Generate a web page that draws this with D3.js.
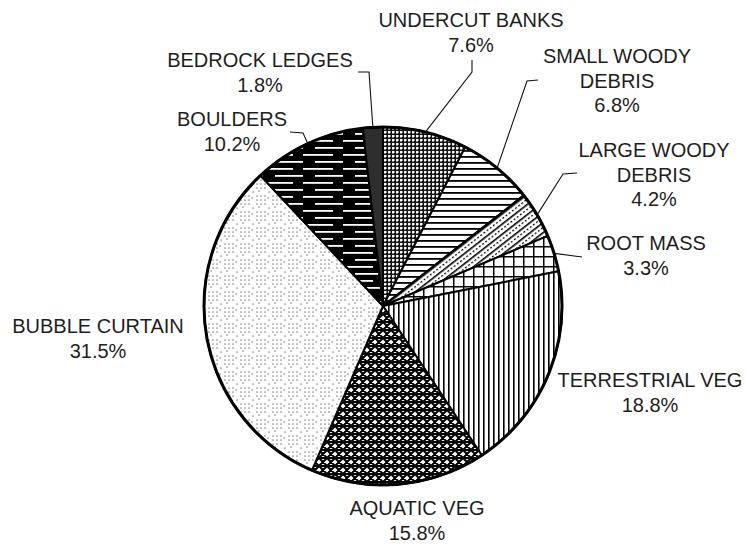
<!DOCTYPE html>
<html>
<head>
<meta charset="utf-8">
<script src="https://cdn.jsdelivr.net/npm/d3@7"></script>
<style>
  html, body { margin: 0; padding: 0; background: #fff; }
  svg { display: block; }
  text { font-family: "Liberation Sans", Arial, sans-serif; font-size: 20px; fill: #1e1e1e; }
</style>
</head>
<body>
<svg id="chart" width="746" height="544"></svg>
<script>
// Habitat cover types, clockwise from 12 o'clock
const categories = ["UNDERCUT BANKS", "SMALL WOODY DEBRIS", "LARGE WOODY DEBRIS", "ROOT MASS",
  "TERRESTRIAL VEG", "AQUATIC VEG", "BUBBLE CURTAIN", "BOULDERS", "BEDROCK LEDGES"];
const values = [7.6, 6.8, 4.2, 3.3, 18.8, 15.8, 31.5, 10.2, 1.8];
const labelLines = [["UNDERCUT BANKS"], ["SMALL WOODY", "DEBRIS"], ["LARGE WOODY", "DEBRIS"], ["ROOT MASS"],
  ["TERRESTRIAL VEG"], ["AQUATIC VEG"], ["BUBBLE CURTAIN"], ["BOULDERS"], ["BEDROCK LEDGES"]];

// Layout: label centre x, first baseline y, optional leader elbow points
const layout = {
  cx: 383, cy: 306, r: 179, lineH: 24.5,
  labels: [
    { x: 471, y: 27, leader: [[472, 60], [472, 72]] },
    { x: 617, y: 63, leader: [[538, 80], [527, 81]] },
    { x: 654, y: 157, leader: [[577, 173], [563, 174]] },
    { x: 646, y: 250, leader: [[582, 257]] },
    { x: 650, y: 387, leader: null },
    { x: 417, y: 515, leader: null },
    { x: 98, y: 333, leader: null },
    { x: 232, y: 126, leader: [[290, 132], [303, 133]] },
    { x: 260, y: 67, leader: [[358, 72], [369, 72]] }
  ]
};

const svg = d3.select("#chart");
const defs = svg.append("defs");

function pattern(id, w, h, build, transform) {
  const p = defs.append("pattern").attr("id", id)
    .attr("patternUnits", "userSpaceOnUse").attr("width", w).attr("height", h);
  if (transform) p.attr("patternTransform", transform);
  build(p);
}

// Fine mesh
pattern("p0", 4, 4, p => {
  p.append("rect").attr("width", 4).attr("height", 4).attr("fill", "#111");
  p.append("rect").attr("x", 1).attr("y", 1).attr("width", 2).attr("height", 2).attr("fill", "#fff");
  p.append("rect").attr("x", 3).attr("y", 1).attr("width", 1).attr("height", 2).attr("fill", "#8a8a8a");
  p.append("rect").attr("x", 1).attr("y", 3).attr("width", 2).attr("height", 1).attr("fill", "#8a8a8a");
});
// Horizontal lines
pattern("p1", 6, 6, p => {
  p.append("rect").attr("width", 6).attr("height", 6).attr("fill", "#fff");
  p.append("rect").attr("y", 0).attr("width", 6).attr("height", 1.8).attr("fill", "#000");
});
// Upward diagonal, solid and dashed strokes
pattern("p2", 8, 8, p => {
  p.append("rect").attr("width", 8).attr("height", 8).attr("fill", "#fff");
  p.append("rect").attr("y", 0).attr("width", 8).attr("height", 1.6).attr("fill", "#000");
  p.append("line").attr("x1", 0).attr("x2", 8).attr("y1", 4.6).attr("y2", 4.6)
    .attr("stroke", "#000").attr("stroke-width", 1.4).attr("stroke-dasharray", "2,2");
}, "rotate(-38)");
// Grid
pattern("p3", 10, 10, p => {
  p.append("rect").attr("width", 10).attr("height", 10).attr("fill", "#fff");
  p.append("rect").attr("width", 10).attr("height", 1.5).attr("fill", "#000");
  p.append("rect").attr("width", 1.5).attr("height", 10).attr("fill", "#000");
});
// Vertical lines
pattern("p4", 5, 5, p => {
  p.append("rect").attr("width", 5).attr("height", 5).attr("fill", "#fff");
  p.append("rect").attr("width", 1.6).attr("height", 5).attr("fill", "#000");
});
// Trellis
pattern("p5", 8, 8, p => {
  p.append("rect").attr("width", 8).attr("height", 8).attr("fill", "#fff");
  p.append("path").attr("d", "M0,0L8,8M8,0L0,8M0,0L8,0M0,8L8,8")
    .attr("stroke", "#000").attr("stroke-width", 2).attr("fill", "none");
});
// Sparse dots
pattern("p6", 16, 16, p => {
  p.append("rect").attr("width", 16).attr("height", 16).attr("fill", "#fff");
  const pts = [[2, 2], [6, 2], [10, 2], [2, 6], [6, 6], [10, 6], [2, 10], [6, 10], [10, 10], [14, 14], [13, 4], [4, 13]];
  pts.forEach(([x, y]) => p.append("circle").attr("cx", x).attr("cy", y).attr("r", 0.85).attr("fill", "#8a8a8a"));
});
// Dark with broken white horizontals
pattern("p7", 40, 14, p => {
  p.append("rect").attr("width", 40).attr("height", 14).attr("fill", "#000");
  p.append("rect").attr("x", 0).attr("y", 2).attr("width", 30).attr("height", 1.8).attr("fill", "#fff");
  p.append("rect").attr("x", 12).attr("y", 9).attr("width", 28).attr("height", 1.8).attr("fill", "#fff");
});
const fills = ["url(#p0)", "url(#p1)", "url(#p2)", "url(#p3)", "url(#p4)", "url(#p5)", "url(#p6)", "url(#p7)", "#2e2e2e"];

const pie = d3.pie().sort(null).value(d => d);
const arcs = pie(values);
const arc = d3.arc().innerRadius(0).outerRadius(layout.r);

const g = svg.append("g").attr("transform", `translate(${layout.cx},${layout.cy})`);
g.selectAll("path.slice").data(arcs).join("path")
  .attr("class", "slice")
  .attr("d", arc)
  .attr("fill", (d, i) => fills[i])
  .attr("stroke", "#000")
  .attr("stroke-width", 2)
  .attr("stroke-linejoin", "round");
g.append("circle").attr("r", layout.r).attr("fill", "none").attr("stroke", "#000").attr("stroke-width", 3);

// Leader lines to the rim at each slice's mid-angle
const line = d3.line();
arcs.forEach((a, i) => {
  const lab = layout.labels[i];
  if (!lab.leader) return;
  const mid = (a.startAngle + a.endAngle) / 2;
  const rim = [layout.cx + layout.r * Math.sin(mid), layout.cy - layout.r * Math.cos(mid)];
  svg.append("path").attr("d", line([...lab.leader, rim]))
    .attr("fill", "none").attr("stroke", "#111").attr("stroke-width", 1.1);
});

// Labels
const fmt = d3.format(".1f");
arcs.forEach((a, i) => {
  const lab = layout.labels[i];
  const lines = [...labelLines[i], fmt(values[i]) + "%"];
  const t = svg.append("text").attr("text-anchor", "middle");
  lines.forEach((s, k) => {
    t.append("tspan").attr("x", lab.x).attr("y", lab.y + k * layout.lineH).text(s);
  });
});
</script>
</body>
</html>
